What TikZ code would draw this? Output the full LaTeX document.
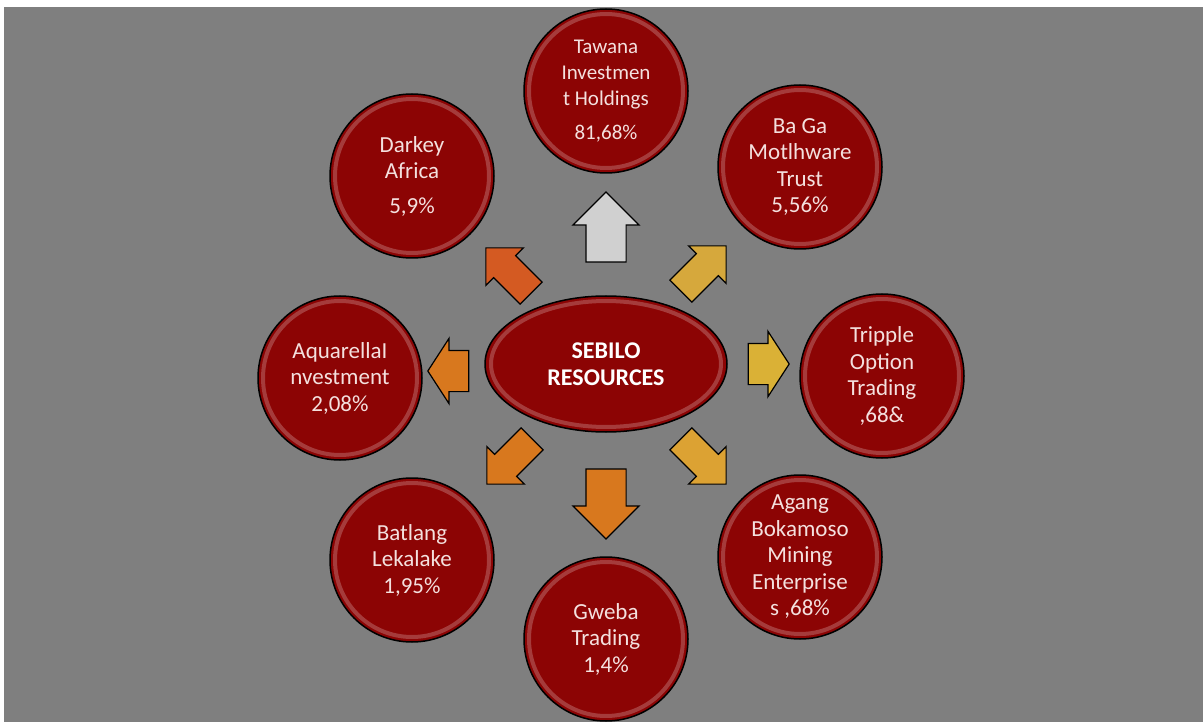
\documentclass[tikz,border=0pt]{standalone}
\usepackage{fontspec}
\setmainfont{Carlito}
\usetikzlibrary{shapes.geometric, shapes.arrows, positioning}

\definecolor{panelgrey}{RGB}{127,127,127}
\definecolor{discred}{RGB}{140,4,4}
\definecolor{disctext}{RGB}{244,224,222}
\definecolor{silverarrow}{RGB}{208,208,208}
\definecolor{goldarrow}{RGB}{214,168,60}
\definecolor{rustarrow}{RGB}{212,90,34}
\definecolor{orangearrow}{RGB}{216,120,30}

\begin{document}
\begin{tikzpicture}[x=1pt, y=1pt, on grid,
    disc/.style={circle, draw=black, line width=1.5pt, fill=discred, minimum size=164pt,
      inner sep=0pt, align=center, text=disctext, font=\fontsize{23}{26.5}\selectfont,
      path picture={\draw[white, opacity=.22, line width=4pt]
        (path picture bounding box.center) circle[radius=77];}},
    core/.style={ellipse, draw=black, line width=1.5pt, fill=discred, minimum width=242pt,
      minimum height=136pt, inner sep=0pt, align=center, text=white,
      font=\fontsize{24}{27}\selectfont\bfseries,
      path picture={\draw[white, opacity=.22, line width=4pt]
        (path picture bounding box.center) ellipse[x radius=115, y radius=63];}},
    bigarrow/.style={single arrow, draw=black, line width=1.2pt, inner xsep=0pt,
      inner ysep=19.5pt, minimum height=70pt, single arrow head extend=13pt},
    slantarrow/.style={single arrow, draw=black, line width=1.2pt, inner xsep=0pt,
      inner ysep=15pt, minimum height=64pt, single arrow head extend=11pt},
    sidearrow/.style={single arrow, draw=black, line width=1.2pt, inner xsep=0pt,
      inner ysep=20pt, minimum height=41pt, single arrow head extend=12pt,
      single arrow tip angle=114}]

  % page and panel
  \fill[white] (0,0) rectangle (1203,-722);
  \useasboundingbox (0,0) rectangle (1203,-722);
  \fill[panelgrey] (4,-7) rectangle (1203,-722);

  \node[core] (core) at (606,-364) {SEBILO\\RESOURCES};

  % shareholders
  \node[disc, font=\fontsize{21}{26}\selectfont] (tawana) [above=273pt of core] {Tawana\\Investmen\\t Holdings\\[8pt]81,68\%};
  \node[disc] (baga) [above right=197pt and 194pt of core] {Ba Ga\\Motlhware\\Trust\\5,56\%};
  \node[disc] (tripple) [below right=12pt and 276pt of core] {Tripple\\Option\\Trading\\,68\&};
  \node[disc] (agang) [below right=193pt and 194pt of core] {Agang\\Bokamoso\\Mining\\Enterprise\\s ,68\%};
  \node[disc] (gweba) [below=275pt of core] {Gweba\\Trading\\1,4\%};
  \node[disc] (batlang) [below left=196pt and 194pt of core] {Batlang\\Lekalake\\1,95\%};
  \node[disc] (aquarella) [below left=14pt and 266pt of core] {AquarellaI\\nvestment\\2,08\%};
  \node[disc] (darkey) [above left=188pt and 194pt of core] {Darkey\\Africa\\[8pt]5,9\%};

  % arrows out of the centre
  \node[bigarrow, fill=silverarrow, rotate=90] (aup) [above=127pt of core] {};
  \node[slantarrow, fill=goldarrow, rotate=45] (aupright) [above right=90pt and 92pt of core] {};
  \node[sidearrow, fill=goldarrow!90!yellow] (aright) [right=156pt of core] {};
  \node[slantarrow, fill=goldarrow!85!orange, rotate=-45] (adownright) [below right=92pt and 92pt of core] {};
  \node[bigarrow, fill=orangearrow, rotate=-90] (adown) [below=130pt of core] {};
  \node[slantarrow, fill=orangearrow, rotate=-135] (adownleft) [below left=92pt and 91pt of core] {};
  \node[sidearrow, fill=orangearrow, rotate=180] (aleft) [below left=7pt and 151pt of core] {};
  \node[slantarrow, fill=rustarrow, rotate=135] (aupleft) [above left=88pt and 92pt of core] {};
\end{tikzpicture}
\end{document}
